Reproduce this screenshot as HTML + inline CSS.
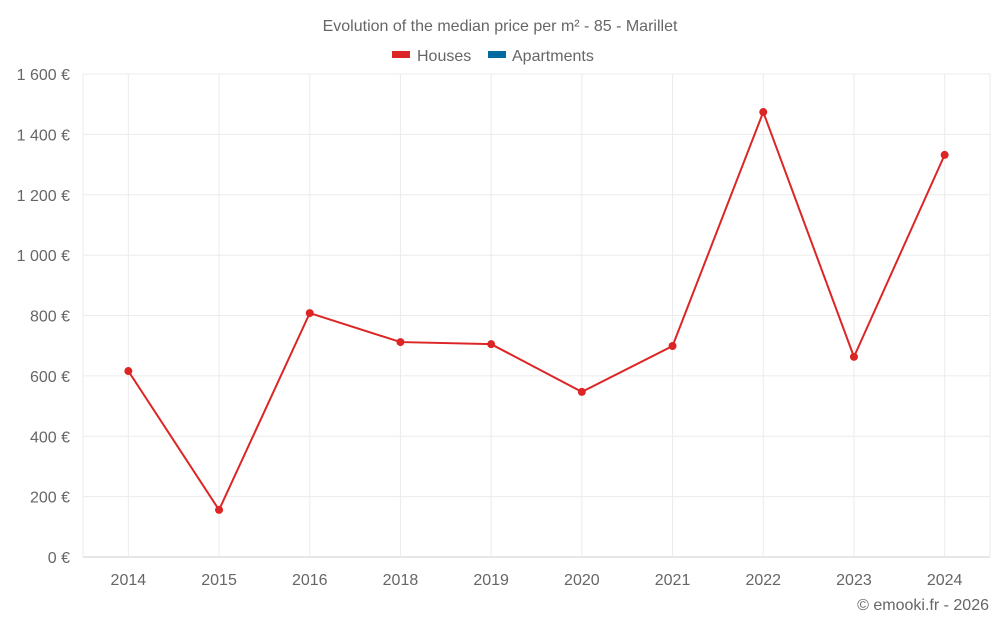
<!DOCTYPE html>
<html><head><meta charset="utf-8"><style>
body{margin:0;background:#fff;font-family:"Liberation Sans",sans-serif;}
svg text{font-family:"Liberation Sans",sans-serif;fill:#666;}
</style></head><body>
<svg id="chart" width="1000" height="625" xmlns="http://www.w3.org/2000/svg">
<text x="500" y="31" text-anchor="middle" font-size="16">Evolution of the median price per m² - 85 - Marillet</text>
<g>
<g><rect x="392" y="51" width="18" height="7" fill="#dc2626"/><text x="417" y="61" font-size="16">Houses</text></g>
<g><rect x="488" y="51" width="18" height="7" fill="#0369a1"/><text x="512" y="61" font-size="16">Apartments</text></g>
</g>
<g id="grid"></g><g id="axes"></g><g id="series"></g>
<text x="989" y="610" text-anchor="end" font-size="16">© emooki.fr - 2026</text>
</svg>
<script>
const categories=["2014","2015","2016","2018","2019","2020","2021","2022","2023","2024"];
const houses=[616,156,808,712,705,547,699,1474,663,1332];
const yTicks=[0,200,400,600,800,1000,1200,1400,1600];
const yTickLabels=["0 €","200 €","400 €","600 €","800 €","1 000 €","1 200 €","1 400 €","1 600 €"];
const L=83,R=990,T=74,B=557,YMAX=1600;
const ns="http://www.w3.org/2000/svg";
const bw=(R-L)/categories.length;
function x(i){return L+bw*(i+0.5);}
function y(v){return B-(v/YMAX)*(B-T);}
function mk(t,a,p){const e=document.createElementNS(ns,t);for(const k in a)e.setAttribute(k,a[k]);p.appendChild(e);return e;}
const grid=document.getElementById('grid'),axes=document.getElementById('axes'),ser=document.getElementById('series');
yTicks.forEach((v,i)=>{
 const l=mk('line',{x1:L,x2:R,y1:y(v),y2:y(v),stroke:v===0?'#ccc':'#ebebeb'},grid);
 
 
 const t=mk('text',{x:70,y:y(v)+6,'text-anchor':'end','font-size':16},axes);t.textContent=yTickLabels[i];
 
 
});
[L,R].forEach(gx=>{
 const l=mk('line',{x1:gx,x2:gx,y1:T,y2:B,stroke:'#ebebeb'},grid);
 
 
});
categories.forEach((c,i)=>{
 const l=mk('line',{x1:x(i),x2:x(i),y1:T,y2:B,stroke:'#ebebeb'},grid);
 
 
 const t=mk('text',{x:x(i),y:585,'text-anchor':'middle','font-size':16},axes);t.textContent=c;
 
 
});
const p=mk('polyline',{points:houses.map((v,i)=>x(i)+','+y(v)).join(' '),fill:'none',stroke:'#dc2626','stroke-width':2},ser);


houses.forEach((v,i)=>{
 const c=mk('circle',{cx:x(i),cy:y(v),r:4,fill:'#dc2626'},ser);
 
 
});
</script>
</body></html>
